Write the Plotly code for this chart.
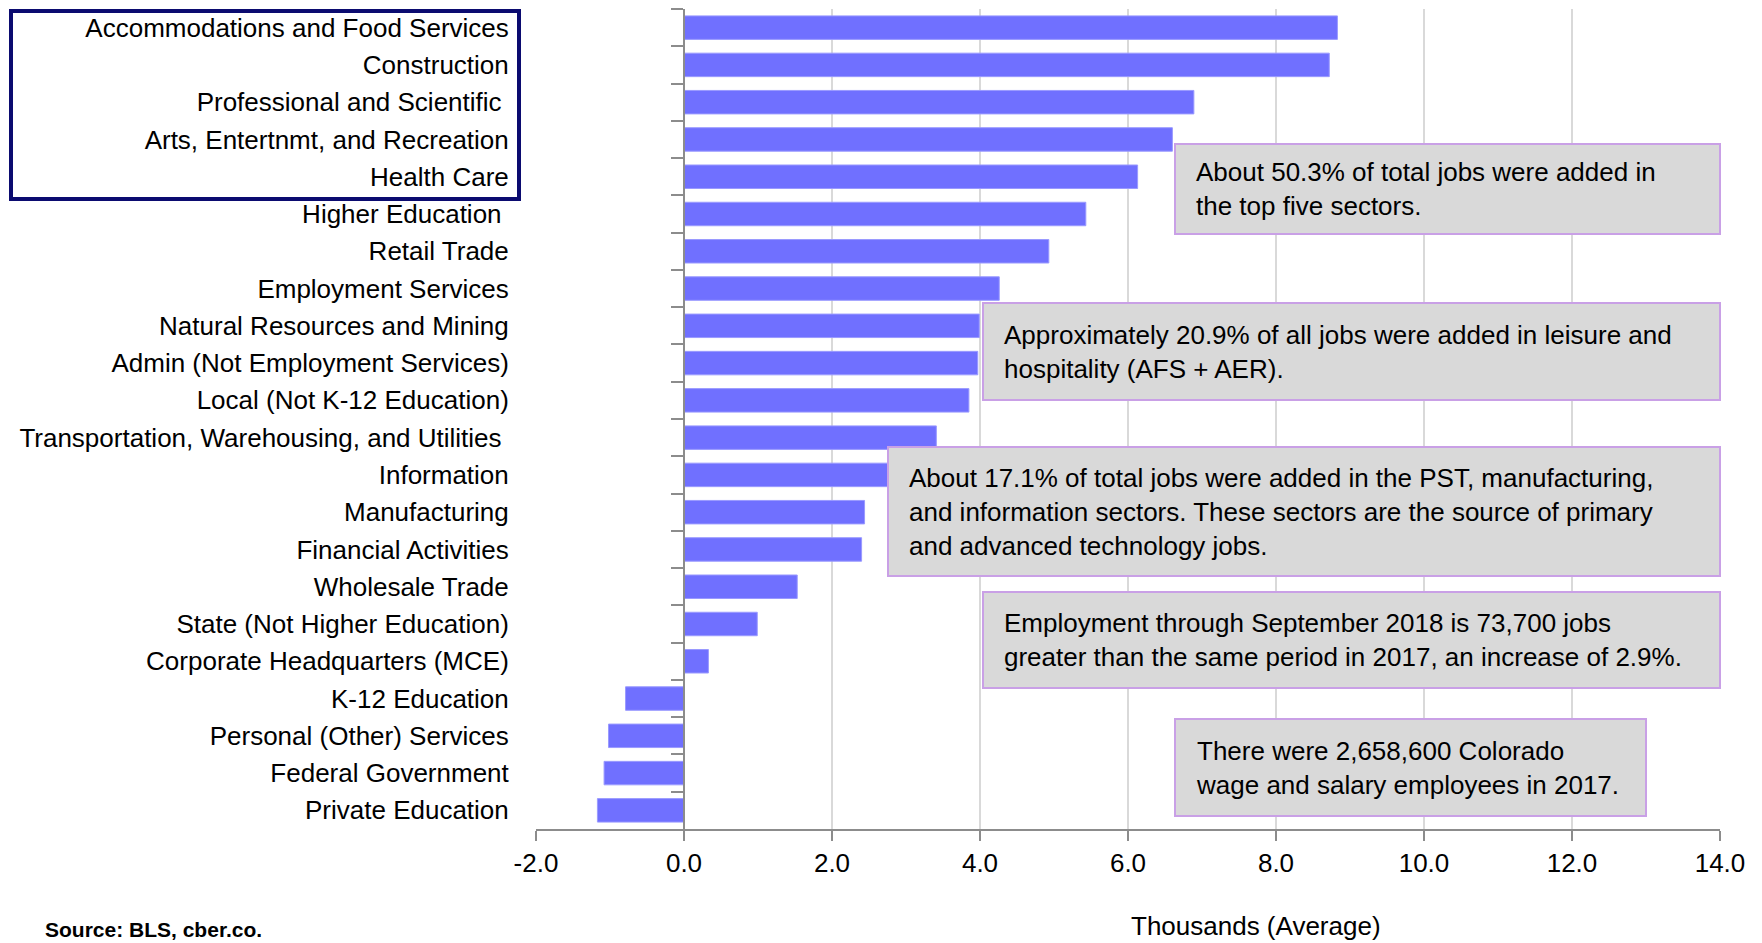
import plotly.graph_objects as go

# sectors, top to bottom as in the chart (nbsp keeps the trailing spaces of the source labels)
sectors = [
    "Accommodations and Food Services",
    "Construction",
    "Professional and Scientific\u00a0",
    "Arts, Entertnmt, and Recreation",
    "Health Care",
    "Higher Education\u00a0",
    "Retail Trade",
    "Employment Services",
    "Natural Resources and Mining",
    "Admin (Not Employment Services)",
    "Local (Not K-12 Education)",
    "Transportation, Warehousing, and Utilities\u00a0",
    "Information",
    "Manufacturing",
    "Financial Activities",
    "Wholesale Trade",
    "State (Not Higher Education)",
    "Corporate Headquarters (MCE)",
    "K-12 Education",
    "Personal (Other) Services",
    "Federal Government",
    "Private Education",
]
# job change, thousands (average)
jobs = [8.83, 8.72, 6.89, 6.60, 6.13, 5.43, 4.93, 4.26, 3.99, 3.97, 3.85,
        3.41, 3.25, 2.44, 2.40, 1.53, 0.99, 0.33, -0.79, -1.02, -1.08, -1.17]

x_ticks = [-2, 0, 2, 4, 6, 8, 10, 12, 14]
x_tick_labels = [f"{v:.1f}" for v in x_ticks]

notes = [
    "About 50.3% of total jobs were added in<br>the top five sectors.",
    "Approximately 20.9% of all jobs were added in leisure and<br>hospitality (AFS + AER).",
    "About 17.1% of total jobs were added in the PST, manufacturing,<br>"
    "and information sectors. These sectors are the source of primary<br>"
    "and advanced technology jobs.",
    "Employment through September 2018 is 73,700 jobs<br>"
    "greater than the same period in 2017, an increase of 2.9%.",
    "There were 2,658,600 Colorado<br>wage and salary employees in 2017.",
]

FONT = "Liberation Sans, Arial, sans-serif"
FS = 26
OFF = 8  # page body margin around the figure
W, H = 1762 - OFF, 943 - OFF
L, R, T, B = 536 - OFF, 42, 1, 114
PW, PH = W - L - R, H - T - B


# page pixel -> paper fraction
def px_x(px):
    return (px - OFF - L) / PW


def px_y(py):
    return (H - B - (py - OFF)) / PH


fig = go.Figure()
fig.add_trace(go.Bar(
    x=jobs, y=sectors, orientation="h",
    marker=dict(color="#7070FF", line=dict(color="#9a9aff", width=1)),
    width=0.63,
))

# note boxes: left, top, right, bottom in page pixels
boxes = [
    (1175, 144, 1720, 234),
    (983, 303, 1720, 400),
    (888, 447, 1720, 576),
    (983, 592, 1720, 688),
    (1175, 719, 1646, 816),
]
shapes = []
annotations = []
for (x0, y0, x1, y1), txt in zip(boxes, notes):
    shapes.append(dict(type="rect", xref="paper", yref="paper",
                       x0=px_x(x0), x1=px_x(x1), y0=px_y(y1), y1=px_y(y0),
                       fillcolor="#D9D9D9", line=dict(color="#C9A0E6", width=2)))
    annotations.append(dict(xref="paper", yref="paper", x=px_x(x0 + 19), y=px_y((y0 + y1) / 2),
                            xanchor="left", yanchor="middle", align="left", showarrow=False,
                            text=txt, font=dict(family=FONT, size=FS, color="black")))

# navy frame around the top five sectors
shapes.append(dict(type="rect", xref="paper", yref="paper",
                   x0=px_x(11), x1=px_x(519), y0=px_y(199), y1=px_y(11),
                   line=dict(color="#0B0B70", width=4)))

annotations.append(dict(xref="paper", yref="paper", x=px_x(1256), y=px_y(926),
                        xanchor="center", yanchor="middle", showarrow=False,
                        text="Thousands (Average)", font=dict(family=FONT, size=FS, color="black")))
annotations.append(dict(xref="paper", yref="paper", x=px_x(43), y=px_y(930),
                        xanchor="left", yanchor="middle", showarrow=False,
                        text="<b>Source: BLS, cber.co.</b>", font=dict(family=FONT, size=21, color="black")))

fig.update_layout(
    width=W, height=H,
    margin=dict(l=L, r=R, t=T, b=B),
    plot_bgcolor="white", paper_bgcolor="white",
    showlegend=False,
    font=dict(family=FONT, size=FS, color="black"),
    shapes=shapes,
    annotations=annotations,
    xaxis=dict(
        range=[-2, 14], tickvals=x_ticks, ticktext=x_tick_labels,
        ticks="outside", ticklen=10, tickwidth=2, tickcolor="#8c8c8c",
        showline=True, linecolor="#8c8c8c", linewidth=2,
        showgrid=True, gridcolor="#D9D9D9", gridwidth=1.5,
        zeroline=False, automargin=False,
        tickfont=dict(family=FONT, size=FS, color="black"),
    ),
    yaxis=dict(
        categoryorder="array", categoryarray=sectors, autorange="reversed",
        anchor="free", position=(0 - (-2)) / 16,
        showline=True, linecolor="#8c8c8c", linewidth=2,
        ticks="outside", tickson="boundaries", ticklen=12, tickwidth=2, tickcolor="#8c8c8c",
        showgrid=False, zeroline=False, automargin=False,
        ticklabelstandoff=169,
        tickfont=dict(family=FONT, size=FS, color="black"),
    ),
    bargap=0.37,
)

fig.write_html("out.html")
